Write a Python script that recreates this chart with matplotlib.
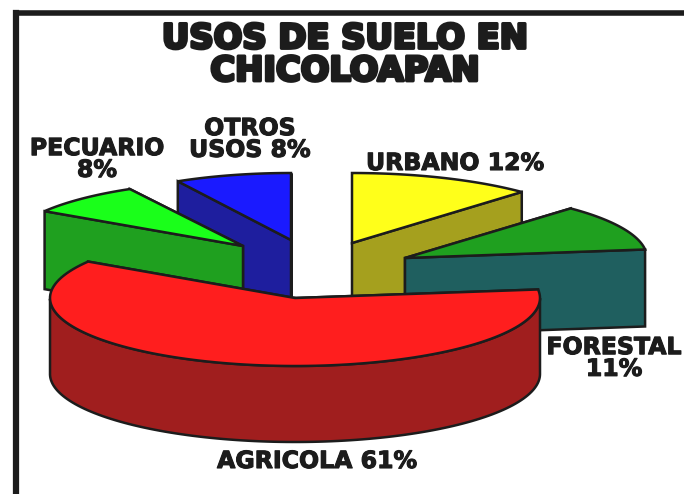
import numpy as np
import matplotlib
matplotlib.use('Agg')
import matplotlib.pyplot as plt
from matplotlib.patches import Polygon
import matplotlib.patheffects as pe

categories = ['URBANO', 'FORESTAL', 'AGRICOLA', 'PECUARIO', 'OTROS USOS']
values = [12, 11, 61, 8, 8]

top_colors = ['#FFFF1A', '#1FA01F', '#FF1E1E', '#1AFF1A', '#1A1AFF']
side_colors = ['#A5A01E', '#1F5F5F', '#A01E1E', '#1FA01F', '#1E1E9E']

# pie centre and radii of each pulled-out slice, in pixels
centers = [(352, 243), (405, 258), (295, 298), (243, 246), (291, 240)]
radii = [(248, 70), (242, 68), (245, 68), (235, 65), (235, 67)]
heights = [76, 77, 76, 78, 75]
draw_order = [4, 3, 0, 1, 2]

labels = ['URBANO 12%', 'FORESTAL\n11%', 'AGRICOLA 61%', 'PECUARIO\n8%', 'OTROS\nUSOS 8%']
label_pos = [(455, 163), (614, 358), (317, 461), (97, 159), (250, 139)]
INK = '#1c1c1c'


def rim(cx, cy, rx, ry, a1, a2):
    t = np.radians(np.linspace(a1, a2, 120))
    return np.column_stack([cx + rx * np.cos(t), cy - ry * np.sin(t)])


def draw_slice(ax, i, a_start, a_end):
    cx, cy = centers[i]
    rx, ry = radii[i]
    h = heights[i]
    edge = rim(cx, cy, rx, ry, a_start, a_end)
    apex = np.array([[cx, cy]])
    down = np.array([0, h])

    # radial faces, the one further back first
    faces = [edge[:1], edge[-1:]]
    faces.sort(key=lambda p: p[0, 1])
    for p in faces:
        quad = np.vstack([apex, p, p + down, apex + down])
        ax.add_patch(Polygon(quad, fc=side_colors[i], ec=INK, lw=1.8))

    # outer wall, only where the rim faces the viewer
    angs = np.linspace(a_start, a_end, 240)
    angs = angs[np.sin(np.radians(angs)) <= 0]
    if len(angs) > 1:
        front = rim(cx, cy, rx, ry, angs[0], angs[-1])
        wall = np.vstack([front, (front + down)[::-1]])
        ax.add_patch(Polygon(wall, fc=side_colors[i], ec=INK, lw=1.8))

    ax.add_patch(Polygon(np.vstack([apex, edge]), fc=top_colors[i], ec=INK, lw=1.8))


fig = plt.figure(figsize=(6.84, 4.94), dpi=100)
ax = fig.add_axes([0, 0, 1, 1])
ax.set_xlim(0, 684)
ax.set_ylim(494, 0)
ax.axis('off')

# slices run clockwise from the top
shares = np.array(values) / sum(values) * 360
ends = 90 - np.cumsum(shares)
starts = ends + shares
for i in draw_order:
    draw_slice(ax, i, ends[i], starts[i])

# frame on top and left
ax.plot([16, 16], [494, 13], color=INK, lw=4.5, solid_joinstyle='miter')
ax.plot([16, 684], [13, 13], color=INK, lw=4, solid_joinstyle='miter')

ax.text(345, 55, 'USOS DE SUELO EN\nCHICOLOAPAN', ha='center', va='center',
        family='DejaVu Sans', weight='bold', fontsize=24.3, color=INK, linespacing=0.98,
        path_effects=[pe.withStroke(linewidth=2.4, foreground=INK)])

for txt, (x, y) in zip(labels, label_pos):
    ax.text(x, y, txt, ha='center', va='center', family='DejaVu Sans', weight='bold',
            fontsize=17, color=INK, linespacing=0.88,
            path_effects=[pe.withStroke(linewidth=0.8, foreground=INK)])

fig.savefig('out.png', dpi=100)
